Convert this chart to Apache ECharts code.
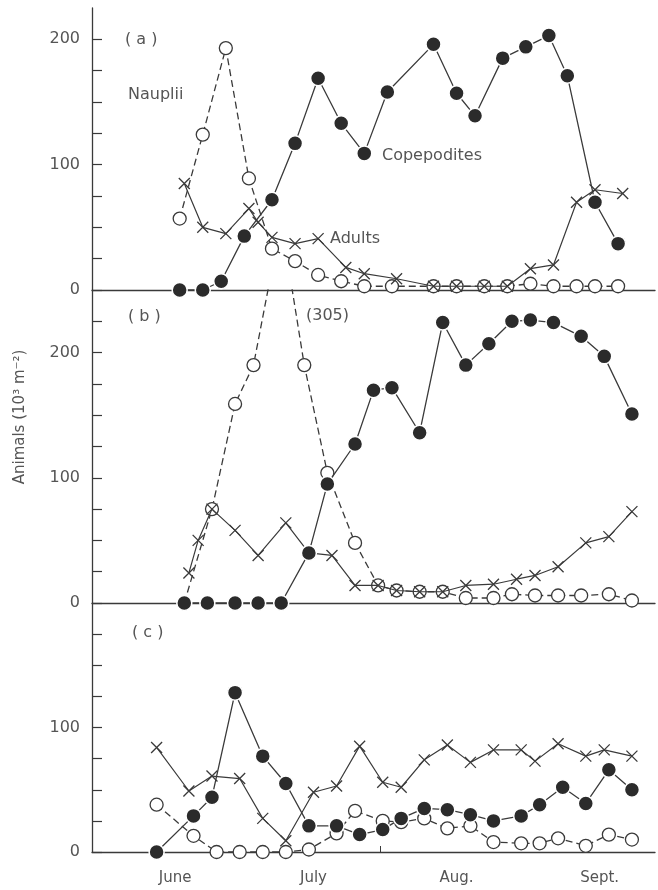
<!DOCTYPE html>
<html>
<head>
<meta charset="utf-8">
<script src="https://cdn.jsdelivr.net/npm/echarts@6/dist/echarts.min.js"></script>
<style>
html,body{margin:0;padding:0;background:#fff;}
#chart{width:658px;height:890px;}
</style>
</head>
<body>
<div id="chart"></div>
<script>
// x values: days counted from June 1 (= 0)
const monthTicks = [0, 30, 61, 92];
const monthLabels = ['June', 'July', 'Aug.', 'Sept.'];

// Panel (a)
const aCopDays = [1, 6, 10, 15, 21, 26, 31, 36, 41, 46, 56, 61, 65, 71, 76, 81, 85, 91, 96];
const aCopVals = [0, 0, 7, 43, 72, 117, 169, 133, 109, 158, 196, 157, 139, 185, 194, 203, 171, 70, 37];
const aNauDays = [1, 6, 11, 16, 21, 26, 31, 36, 41, 47, 56, 61, 67, 72, 77, 82, 87, 91, 96];
const aNauVals = [57, 124, 193, 89, 33, 23, 12, 7, 3, 3, 3, 3, 3, 3, 5, 3, 3, 3, 3];
const aAduDays = [2, 6, 11, 16, 18, 21, 26, 31, 37, 41, 48, 56, 61, 67, 72, 77, 82, 87, 91, 97];
const aAduVals = [85, 50, 45, 65, 54, 42, 37, 41, 18, 13, 9, 3, 3, 3, 3, 17, 20, 70, 80, 77];

// Panel (b)
const bCopDays = [2, 7, 13, 18, 23, 29, 33, 39, 43, 47, 53, 58, 63, 68, 73, 77, 82, 88, 93, 99];
const bCopVals = [0, 0, 0, 0, 0, 40, 95, 127, 170, 172, 136, 224, 190, 207, 225, 226, 224, 213, 197, 151];
const bNauDays = [2, 8, 13, 17, 23, 28, 33, 39, 44, 48, 53, 58, 63, 69, 73, 78, 83, 88, 94, 99];
const bNauVals = [0, 75, 159, 190, 305, 190, 104, 48, 14, 10, 9, 9, 4, 4, 7, 6, 6, 6, 7, 2];
const bAduDays = [3, 5, 8, 13, 18, 24, 29, 34, 39, 44, 48, 53, 58, 63, 69, 74, 78, 83, 89, 94, 99];
const bAduVals = [24, 50, 75, 58, 38, 64, 40, 38, 14, 14, 10, 9, 9, 14, 15, 19, 22, 29, 48, 53, 73];

// Panel (c)
const cCopDays = [-4, 4, 8, 13, 19, 24, 29, 35, 40, 45, 49, 54, 59, 64, 69, 75, 79, 84, 89, 94, 99];
const cCopVals = [0, 29, 44, 128, 77, 55, 21, 21, 14, 18, 27, 35, 34, 30, 25, 29, 38, 52, 39, 66, 50];
const cNauDays = [-4, 4, 9, 14, 19, 24, 29, 35, 39, 45, 49, 54, 59, 64, 69, 75, 79, 83, 89, 94, 99];
const cNauVals = [38, 13, 0, 0, 0, 0, 2, 15, 33, 25, 24, 27, 19, 21, 8, 7, 7, 11, 5, 14, 10];
const cAduDays = [-4, 3, 8, 14, 19, 24, 30, 35, 40, 45, 49, 54, 59, 64, 69, 75, 78, 83, 89, 93, 99];
const cAduVals = [84, 49, 61, 59, 27, 9, 48, 53, 85, 56, 52, 74, 86, 72, 82, 82, 73, 87, 77, 82, 77];

const yMax = [225, 250, 200];
const yLabelsShown = [[0, 100, 200], [0, 100, 200], [0, 100]];

const INK = '#3a3a3a';
const TXT = '#555';
const FONT = 'DejaVu Sans';

function pairs(d, v) { return d.map((x, i) => [x, v[i]]); }

const grids = [
  {left: 92, right: 3, top: 8, height: 282},
  {left: 92, right: 3, top: 290, height: 313},
  {left: 92, right: 3, top: 603, height: 249}
];

const xAxes = grids.map((g, i) => ({
  type: 'value', gridIndex: i, min: -18, max: 104,
  splitLine: {show: false},
  axisLine: {show: true, onZero: false, lineStyle: {color: INK, width: 1.3}},
  axisTick: i === 2 ? {show: true, inside: true, length: 6, customValues: [44.5], lineStyle: {color: INK}} : {show: false},
  axisLabel: i === 2 ? {
    show: true, customValues: monthTicks, margin: 19, color: TXT, fontSize: 15, fontFamily: FONT,
    formatter: v => monthLabels[monthTicks.indexOf(v)] || ''
  } : {show: false}
}));

const yAxes = grids.map((g, i) => ({
  type: 'value', gridIndex: i, min: 0, max: yMax[i], interval: 25,
  splitLine: {show: false},
  axisLine: {show: true, onZero: false, lineStyle: {color: INK, width: 1.3}},
  axisTick: {show: true, inside: true, length: 10, lineStyle: {color: INK, width: 1.2}},
  axisLabel: {
    show: true, margin: 12, color: TXT, fontSize: 16, fontFamily: FONT,
    showMaxLabel: false,
    formatter: v => yLabelsShown[i].indexOf(v) >= 0 ? String(v) : ''
  }
}));

const X_PATH = 'path://M0,0L10,10M10,0L0,10';

function copSeries(i, d, v) {
  return {
    type: 'line', xAxisIndex: i, yAxisIndex: i, data: pairs(d, v),
    symbol: 'circle', symbolSize: 15, clip: true,
    lineStyle: {color: INK, width: 1.3},
    itemStyle: {color: '#2b2b2b', borderColor: '#fff', borderWidth: 1.5},
    emphasis: {disabled: true}, animation: false, z: 4
  };
}
function nauSeries(i, d, v) {
  return {
    type: 'line', xAxisIndex: i, yAxisIndex: i, data: pairs(d, v),
    symbol: 'circle', symbolSize: 13, clip: true,
    lineStyle: {color: INK, width: 1.3, type: [7, 4]},
    itemStyle: {color: '#fff', borderColor: INK, borderWidth: 1.3},
    emphasis: {disabled: true}, animation: false, z: 2
  };
}
function aduSeries(i, d, v) {
  return {
    type: 'line', xAxisIndex: i, yAxisIndex: i, data: pairs(d, v),
    symbol: X_PATH, symbolSize: 11, symbolKeepAspect: true, clip: true,
    lineStyle: {color: INK, width: 1.2},
    itemStyle: {color: 'none', borderColor: INK, borderWidth: 1.3},
    emphasis: {disabled: true}, animation: false, z: 3
  };
}

const series = [
  copSeries(0, aCopDays, aCopVals), nauSeries(0, aNauDays, aNauVals), aduSeries(0, aAduDays, aAduVals),
  copSeries(1, bCopDays, bCopVals), nauSeries(1, bNauDays, bNauVals), aduSeries(1, bAduDays, bAduVals),
  copSeries(2, cCopDays, cCopVals), nauSeries(2, cNauDays, cNauVals), aduSeries(2, cAduDays, cAduVals)
];

function txt(x, y, s, size) {
  return {
    type: 'text', x: x, y: y, z: 10,
    style: {text: s, fill: TXT, font: (size || 16) + 'px "' + FONT + '"', textAlign: 'left', textVerticalAlign: 'middle'}
  };
}

const graphics = [
  txt(125, 40, '( a )', 16),
  txt(128, 95, 'Nauplii', 16),
  txt(382, 156, 'Copepodites', 16),
  txt(330, 239, 'Adults', 16),
  txt(128, 317, '( b )', 16),
  txt(306, 316, '(305)', 16),
  txt(132, 633, '( c )', 16),
  {
    type: 'text', x: 20, y: 417, rotation: Math.PI / 2, z: 10,
    style: {text: 'Animals (10\u00B3 m\u207B\u00B2)', fill: TXT, font: '15px "' + FONT + '"', textAlign: 'center', textVerticalAlign: 'middle'}
  }
];

const chart = echarts.init(document.getElementById('chart'), null, {renderer: 'canvas'});
chart.setOption({
  backgroundColor: '#fff',
  animation: false,
  grid: grids,
  xAxis: xAxes,
  yAxis: yAxes,
  series: series,
  graphic: graphics
});
</script>
</body>
</html>
